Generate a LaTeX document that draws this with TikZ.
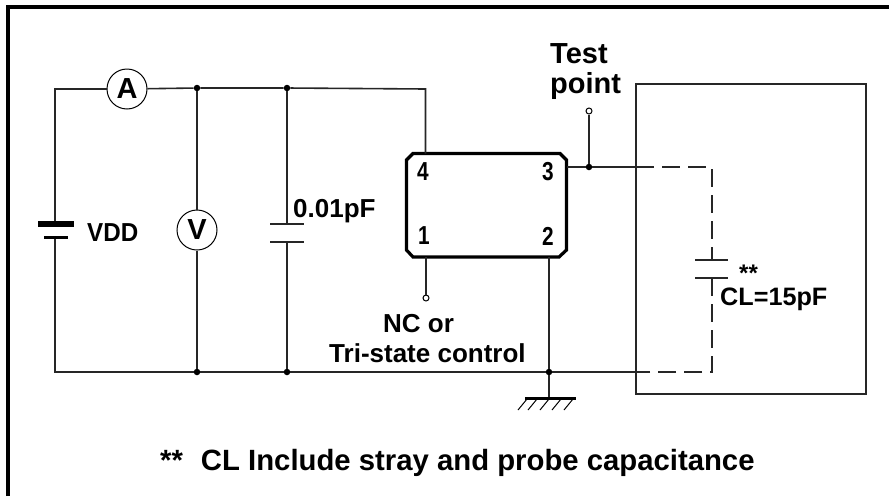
\documentclass[tikz,border=0pt]{standalone}
\usepackage{fontspec}
\setmainfont{Liberation Sans}
\tikzset{
 x=1pt,y=-1pt,
 wire/.style={draw=black!85,line width=1.6pt},
 dashwire/.style={wire,dash pattern=on 18pt off 8pt},
 dotn/.style={circle,fill=black,inner sep=0pt,minimum size=6.5pt},
 opencirc/.style={circle,draw=black,fill=white,line width=1pt,inner sep=0pt,minimum size=6pt},
 meter/.style={circle,draw=black,fill=white,line width=1pt,inner sep=0pt,minimum size=40pt,font=\bfseries\fontsize{29}{29}\selectfont},
 lab/.style={inner sep=0pt,anchor=base west,font=\bfseries\fontsize{26}{26}\selectfont},
 biglab/.style={lab,font=\bfseries\fontsize{29}{29}\selectfont},
 pinlab/.style={inner sep=0pt,font=\bfseries\fontsize{26}{26}\selectfont}
}
\newcommand{\narrowdigit}[1]{\scalebox{.8}[1]{#1}}
\begin{document}
\begin{tikzpicture}
\useasboundingbox (0,0) rectangle (889,496);
\fill[white] (0,0) rectangle (889,496);
\draw[line width=4.5pt,black] (8,496) -- (8,7) -- (889,7);
% junction coordinates
\coordinate (bl) at (55,372);
\node[dotn] (j1) at (197,88) {};
\node[dotn] (j2) at (287,88) {};
\node[dotn] (b1) at (197,372) {};
\node[dotn] (b2) at (287,372) {};
\node[dotn] (b3) at (549,372) {};
\node[dotn] (j3) at (589,167) {};
\node[opencirc] (tp) at (589,111) {};
\node[opencirc] (nc) at (426,298) {};
\node[meter] (A) at (127,89) {A};
\node[meter] (V) at (197,230) {V};
% chip
\draw[line width=3.2pt,draw=black,fill=white]
 (413,153.5)--(560,153.5)--(566.5,160)--(566.5,250)--(559,257)--(413,257)--(406.5,250)--(406.5,160)--cycle;
\coordinate (chip4) at (425.5,153.5);
\coordinate (chip3) at (566.5,167);
\coordinate (chip1) at (426,257);
\coordinate (chip2) at (549,257);
\node[pinlab] (p4) at (423,172) {\narrowdigit{4}};
\node[pinlab] (p3) at (548,172) {\narrowdigit{3}};
\node[pinlab] (p1) at (424,236) {\narrowdigit{1}};
\node[pinlab] (p2) at (548,236) {\narrowdigit{2}};
% wires
\coordinate (ctr) at (425.5,89);
\coordinate (tl) at (55,89);
\draw[wire] (A) -- (tl) -- (55,222);
\draw[wire] (A) -- (j1) -- (j2) -- (ctr) -- (chip4);
\draw[wire] (j1) -- (V);
\draw[wire] (V) -- (b1);
\coordinate (c1a) at (287,224);
\coordinate (c1b) at (287,242);
\draw[wire] (j2) -- (c1a);
\draw[wire] (c1b) -- (b2);
\draw[wire] (270,224) -- (304,224);
\draw[wire] (270,242) -- (304,242);
% battery
\draw[line width=5.5pt,draw=black] (38,224) -- (74,224);
\draw[line width=3.5pt,draw=black] (44,237.5) -- (68,237.5);
\draw[wire] (55,239) -- (bl) -- (b1) -- (b2) -- (b3) -- (636,372);
% pin wires
\draw[wire] (chip1) -- (nc);
\draw[wire] (chip2) -- (b3);
\draw[wire] (chip3) -- (j3) -- (636,167);
\draw[wire] (j3) -- (tp);
% ground
\coordinate (gnd) at (549,398);
\draw[wire] (b3) -- (gnd);
\draw[line width=3pt,draw=black] (525,398) -- (576,398);
\foreach \x in {527,537,549,561,573}{\draw[line width=1pt] (\x,399) -- (\x-9,410);}
% box
\draw[wire,fill=none] (636,84) rectangle (866,394);
% dashed
\draw[dashwire] (636,167) -- (712,167) -- (712,260);
\draw[dashwire] (712,278) -- (712,372) -- (636,372);
\draw[wire] (695,260) -- (728,260);
\draw[wire] (695,278) -- (728,278);
% labels
\node[biglab] (tplab1) at (550,63) {Test};
\node[biglab] (tplab2) at (550,93) {point};
\node[lab] (vdd) at (87,241) {\scalebox{.93}[1]{VDD}};
\node[lab] (cap) at (293,217) {0.01pF};
\node[lab] (nclab1) at (383,332) {NC or};
\node[lab] (nclab2) at (329,362) {Tri-state control};
\node[lab,font=\bfseries\fontsize{24}{24}\selectfont] (star) at (739,281) {**};
\node[lab,font=\bfseries\fontsize{25.2}{25.2}\selectfont] (cl) at (720,305) {CL=15pF};
\node[biglab,font=\bfseries\fontsize{29.3}{29.3}\selectfont] (note) at (160,470) {**\hspace{18pt}CL Include stray and probe capacitance};
\end{tikzpicture}
\end{document}
